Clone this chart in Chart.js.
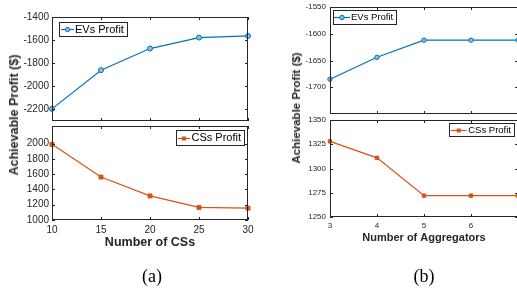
<!DOCTYPE html>
<html>
<head>
<meta charset="utf-8">
<script src="https://cdn.jsdelivr.net/npm/chart.js@4"></script>
<style>
body{margin:0;background:#fff;overflow:hidden;width:517px;height:291px;position:relative;font-family:"Liberation Sans",Arial,sans-serif}
.box{position:absolute}
.ylab{position:absolute;font-weight:bold;white-space:nowrap;transform:translate(-50%,-50%) rotate(-90deg);color:#262626}
.cap{position:absolute;font-family:"Liberation Serif","Times New Roman",serif;font-size:18px;transform:translate(-50%,-50%);color:#000}
</style>
</head>
<body>
<div class="box" style="left:0;top:0"><canvas id="aTop" width="260" height="130"></canvas></div>
<div class="box" style="left:0;top:121px"><canvas id="aBottom" width="260" height="170"></canvas></div>
<div class="box" style="left:260px;top:0"><canvas id="bTop" width="270" height="125"></canvas></div>
<div class="box" style="left:260px;top:115px"><canvas id="bBottom" width="270" height="176"></canvas></div>
<div class="ylab" style="left:14px;top:115px;font-size:12.5px">Achievable Profit ($)</div>
<div class="ylab" style="left:296px;top:108px;font-size:11.5px">Achievable Profit ($)</div>
<div class="cap" style="left:152px;top:276px">(a)</div>
<div class="cap" style="left:424px;top:276px">(b)</div>
<script>
// (a) varying number of charging stations
var csCounts=[10,15,20,25,30];
var evsProfitA=[-2195,-1860,-1673,-1578,-1564];
var csProfitA=[1990,1562,1315,1165,1155];
var aTopTicks=[-2200,-2000,-1800,-1600,-1400];
var aBottomTicks=[1000,1200,1400,1600,1800,2000];

// (b) varying number of aggregators
var aggCounts=[3,4,5,6,7];
var evsProfitB=[-1685,-1644,-1612,-1612,-1612];
var csProfitB=[1328,1311,1272,1272,1272];
var aggTicks=[3,4,5,6];
var bTopTicks=[-1700,-1650,-1600,-1550];
var bBottomTicks=[1250,1275,1300,1325,1350];

var blue='#0072BD', orange='#D95319', axisCol='#262626';
var fam='"Liberation Sans", Arial, sans-serif';

function fixedY(w){ return function(s){ s.width=w; s.paddingTop=0; s.paddingBottom=0; }; }
function fixedX(h){ return function(s){ if(!s.options.display) return; s.height=h; s.paddingLeft=0; s.paddingRight=0; }; }
function useTicks(list){ return function(s){ s.ticks=list.map(function(v){ return {value:v}; }); }; }

// box, inward ticks and a matlab-like legend
var matlabAxes={
    id:'matlabAxes',
    afterDatasetsDraw:function(chart,args,o){
        var ctx=chart.ctx, ca=chart.chartArea, xs=chart.scales.x, ys=chart.scales.y;
        ctx.save();
        ctx.strokeStyle=axisCol;
        ctx.lineWidth=1;
        ctx.beginPath();
        o.xTicks.forEach(function(v){
            var px=Math.round(xs.getPixelForValue(v))+0.5;
            ctx.moveTo(px,ca.bottom); ctx.lineTo(px,ca.bottom-o.tick);
            ctx.moveTo(px,ca.top); ctx.lineTo(px,ca.top+o.tick);
        });
        o.yTicks.forEach(function(v){
            var py=Math.round(ys.getPixelForValue(v))+0.5;
            ctx.moveTo(ca.left,py); ctx.lineTo(ca.left+o.tick,py);
            ctx.moveTo(ca.right,py); ctx.lineTo(ca.right-o.tick,py);
        });
        ctx.stroke();
        ctx.strokeRect(ca.left+0.5,ca.top+0.5,ca.right-ca.left-1,ca.bottom-ca.top-1);

        var ds=chart.data.datasets[0], lg=o.legend;
        ctx.font=lg.font+'px '+fam;
        var tw=ctx.measureText(ds.label).width;
        var w=lg.textX+tw+3;
        var x=lg.side==='left' ? ca.left+lg.dx : ca.right-lg.dx-w;
        var y=ca.top+lg.dy;
        ctx.fillStyle='#fff';
        ctx.fillRect(x,y,w,lg.h);
        ctx.strokeStyle=axisCol;
        ctx.strokeRect(Math.round(x)+0.5,Math.round(y)+0.5,Math.round(w),lg.h);
        var cy=Math.round(y+lg.h/2)+0.5;
        ctx.strokeStyle=ds.borderColor;
        ctx.lineWidth=1.2;
        ctx.beginPath();
        ctx.moveTo(x+lg.l1,cy); ctx.lineTo(x+lg.l2,cy);
        ctx.stroke();
        var mx=x+(lg.l1+lg.l2)/2;
        ctx.fillStyle=ds.pointBackgroundColor;
        ctx.strokeStyle=ds.borderColor;
        ctx.lineWidth=1;
        if(ds.pointStyle==='rect'){
            ctx.fillRect(mx-2,cy-2,4,4);
        }else{
            ctx.beginPath(); ctx.arc(mx,cy,2.2,0,Math.PI*2); ctx.fill(); ctx.stroke();
        }
        ctx.fillStyle='#000';
        ctx.textBaseline='middle';
        ctx.fillText(ds.label,x+lg.textX,y+lg.h/2+0.5);
        ctx.restore();
    }
};

function makeChart(id,c){
    var pts=c.xs.map(function(x,i){ return {x:x,y:c.ys[i]}; });
    return new Chart(document.getElementById(id),{
        type:'line',
        data:{datasets:[{
            label:c.label, data:pts,
            borderColor:c.color, backgroundColor:c.fill,
            borderWidth:1.2, tension:0, clip:false,
            pointStyle:c.marker, pointRadius:c.r, pointBorderWidth:1,
            pointBackgroundColor:c.fill, pointBorderColor:c.color
        }]},
        options:{
            responsive:false, animation:false, events:[],
            layout:{padding:c.pad},
            plugins:{
                legend:{display:false}, tooltip:{enabled:false},
                matlabAxes:{xTicks:c.xTicks, yTicks:c.yTicks, tick:3, legend:c.legend}
            },
            scales:{
                x:{
                    type:'linear', min:c.xMin, max:c.xMax, display:c.showX,
                    afterBuildTicks:useTicks(c.xTicks), afterFit:fixedX(30),
                    grid:{display:false, drawTicks:false, tickLength:0}, border:{display:false},
                    ticks:{color:axisCol, autoSkip:false, maxRotation:0, padding:c.xPad,
                        font:{family:fam, size:c.tickFont}, callback:function(v){ return String(v); }},
                    title:{display:c.showX, text:c.xTitle, color:axisCol, padding:{top:0,bottom:c.titlePad},
                        font:{family:fam, size:c.titleFont, weight:'bold'}}
                },
                y:{
                    type:'linear', min:c.yMin, max:c.yMax,
                    afterBuildTicks:useTicks(c.yTicks), afterFit:fixedY(48),
                    grid:{display:false, drawTicks:false, tickLength:0}, border:{display:false},
                    ticks:{color:axisCol, autoSkip:false, padding:c.yPad,
                        font:{family:fam, size:c.tickFont}, callback:function(v){ return String(v); }}
                }
            }
        },
        plugins:[matlabAxes]
    });
}

makeChart('aTop',{
    label:'EVs Profit', xs:csCounts, ys:evsProfitA, color:blue, fill:'#8dbbe2', marker:'circle', r:2.5,
    pad:{left:4,right:12,top:17,bottom:9}, showX:false, xMin:10, xMax:30, yMin:-2300, yMax:-1400,
    xTicks:csCounts, yTicks:aTopTicks, tickFont:10, yPad:3, xPad:4, titleFont:12.5, titlePad:0, xTitle:'',
    legend:{side:'left', dx:7, dy:5, h:14, l1:2, l2:15, textX:16, font:11}
});
makeChart('aBottom',{
    label:'CSs Profit', xs:csCounts, ys:csProfitA, color:orange, fill:orange, marker:'rect', r:2.8,
    pad:{left:4,right:12,top:3,bottom:41}, showX:true, xMin:10, xMax:30, yMin:1000, yMax:2230,
    xTicks:csCounts, yTicks:aBottomTicks, tickFont:10, yPad:3, xPad:4, titleFont:12.5, titlePad:0, xTitle:'Number of CSs',
    legend:{side:'right', dx:4, dy:4, h:15, l1:2, l2:14, textX:15.5, font:11}
});
makeChart('bTop',{
    label:'EVs Profit', xs:aggCounts, ys:evsProfitB, color:blue, fill:'#8dbbe2', marker:'circle', r:2.2,
    pad:{left:22,right:12,top:7,bottom:11}, showX:false, xMin:3, xMax:7, yMin:-1750, yMax:-1550,
    xTicks:aggTicks, yTicks:bTopTicks, tickFont:8, yPad:4, xPad:4, titleFont:11, titlePad:2, xTitle:'',
    legend:{side:'left', dx:3, dy:3, h:14, l1:1, l2:17, textX:18, font:9.5}
});
makeChart('bBottom',{
    label:'CSs Profit', xs:aggCounts, ys:csProfitB, color:orange, fill:orange, marker:'rect', r:2.4,
    pad:{left:22,right:12,top:3,bottom:44}, showX:true, xMin:3, xMax:7, yMin:1250, yMax:1350,
    xTicks:aggTicks, yTicks:bBottomTicks, tickFont:8, yPad:4, xPad:4, titleFont:11, titlePad:2, xTitle:'Number of Aggregators',
    legend:{side:'right', dx:4, dy:3, h:13, l1:2, l2:18, textX:19.5, font:9.5}
});
</script>
</body>
</html>
